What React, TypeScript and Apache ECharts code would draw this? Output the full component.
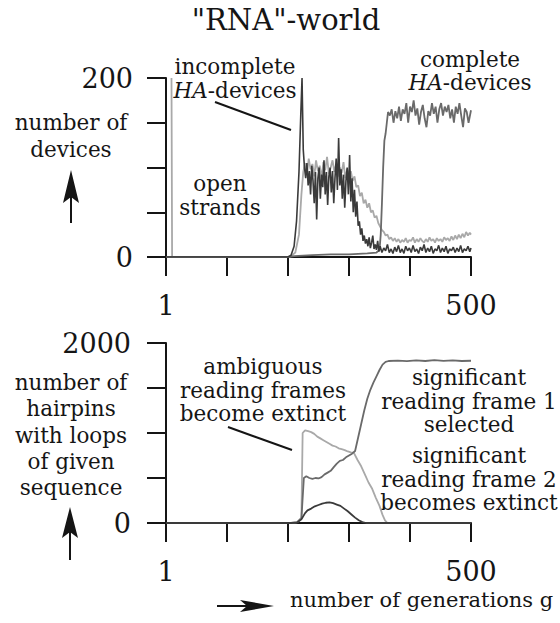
import React, { useEffect, useRef } from "react";
import * as echarts from "echarts";

const TITLE = '"RNA"-world';
const X_TICK_LABELS: Record<number, string> = { 0: "1", 500: "500" };
const Y1_TICK_LABELS: Record<number, string> = { 0: "0", 200: "200" };
const Y2_TICK_LABELS: Record<number, string> = { 0: "0", 2000: "2000" };

// Top panel: number of devices
const openStrands: [number, number][] = [
  [9, 200], [10, 0], [200, 0], [205, 1], [212, 5], [218, 25], [222, 70], [225, 95], [228, 105], [231, 92], [234, 110],
  [237, 98], [240, 104], [243, 90], [246, 108], [249, 96], [252, 102], [255, 88], [258, 106], [261, 97], [264, 112],
  [267, 93], [270, 100], [273, 108], [276, 95], [279, 104], [282, 90], [285, 100], [288, 94], [291, 106], [294, 88],
  [297, 98], [300, 92], [303, 96], [306, 85], [309, 90], [312, 78], [315, 80], [318, 68], [321, 72], [324, 60],
  [327, 64], [330, 55], [333, 60], [336, 50], [339, 52], [342, 44], [345, 46], [348, 38], [351, 34], [354, 30],
  [357, 28], [360, 24], [363, 25], [366, 20], [369, 22], [372, 18], [375, 21], [378, 17], [381, 20], [384, 16],
  [387, 19], [390, 17], [393, 21], [396, 16], [399, 19], [402, 18], [405, 22], [408, 16], [411, 20], [414, 17],
  [417, 21], [420, 18], [423, 16], [426, 20], [429, 17], [432, 22], [435, 18], [438, 20], [441, 16], [444, 21],
  [447, 18], [450, 20], [453, 17], [456, 22], [459, 19], [462, 21], [465, 18], [468, 23], [471, 19], [474, 24],
  [477, 20], [480, 25], [483, 21], [486, 26], [489, 22], [492, 28], [495, 24], [498, 27], [500, 25],
];

const incompleteHA: [number, number][] = [
  [0, 0], [200, 0], [205, 2], [210, 12], [214, 40], [218, 95], [221, 160], [223, 200], [225, 120], [227, 100],
  [229, 88], [231, 105], [233, 80], [235, 96], [237, 70], [239, 102], [241, 85], [243, 60], [245, 95], [247, 42],
  [249, 88], [251, 100], [253, 65], [255, 92], [257, 78], [259, 108], [261, 70], [263, 95], [265, 58], [267, 90],
  [269, 100], [271, 72], [273, 96], [275, 60], [277, 88], [279, 110], [281, 75], [283, 133], [285, 80], [287, 98],
  [289, 65], [291, 92], [293, 55], [295, 85], [297, 100], [299, 70], [301, 114], [303, 62], [305, 88], [307, 50],
  [309, 75], [311, 45], [313, 62], [315, 35], [317, 40], [319, 25], [321, 32], [323, 18], [325, 24], [327, 15],
  [329, 20], [331, 12], [333, 22], [335, 10], [337, 16], [339, 24], [341, 9], [343, 14], [345, 8], [347, 18],
  [349, 6], [351, 12], [354, 5], [357, 10], [360, 7], [363, 14], [366, 5], [369, 9], [372, 4], [375, 11],
  [378, 6], [381, 13], [384, 5], [387, 9], [390, 4], [393, 12], [396, 7], [399, 10], [402, 5], [405, 13],
  [408, 6], [411, 9], [414, 4], [417, 11], [420, 7], [423, 14], [426, 5], [429, 10], [432, 6], [435, 12],
  [438, 4], [441, 9], [444, 7], [447, 13], [450, 5], [453, 10], [456, 6], [459, 12], [462, 4], [465, 9],
  [468, 7], [471, 11], [474, 5], [477, 10], [480, 6], [483, 13], [486, 5], [489, 9], [492, 7], [495, 12],
  [498, 6], [500, 10],
];

const completeHA: [number, number][] = [
  [0, 0], [200, 0], [210, 1], [240, 2], [270, 3], [300, 3], [330, 4], [345, 5], [350, 8], [352, 25], [354, 60],
  [356, 100], [358, 130], [360, 138], [362, 150], [364, 162], [367, 158], [370, 165], [373, 150], [376, 163],
  [379, 155], [382, 168], [385, 152], [388, 165], [391, 160], [394, 172], [397, 150], [400, 168], [403, 162],
  [406, 175], [409, 158], [412, 166], [415, 148], [418, 162], [421, 170], [424, 155], [427, 145], [430, 163],
  [433, 158], [436, 172], [439, 160], [442, 168], [445, 150], [448, 165], [451, 172], [454, 158], [457, 168],
  [460, 162], [463, 170], [466, 155], [469, 165], [472, 150], [475, 168], [478, 160], [481, 172], [484, 158],
  [487, 145], [490, 166], [493, 162], [496, 150], [500, 164],
];

// Bottom panel: number of hairpins with loops of given sequence
const ambiguousFrames: [number, number][] = [
  [0, 0], [205, 0], [215, 10], [222, 60], [224, 1000], [228, 1030], [233, 1020], [238, 1010], [243, 990],
  [248, 960], [253, 940], [258, 920], [263, 900], [268, 880], [273, 860], [278, 850], [283, 830], [288, 820],
  [293, 810], [298, 795], [303, 785], [308, 780], [314, 700], [320, 630], [326, 540], [332, 450], [338, 380],
  [344, 280], [350, 190], [355, 90], [359, 30], [363, 0], [500, 0],
];

const frame1: [number, number][] = [
  [0, 0], [205, 0], [215, 10], [222, 50], [226, 500], [230, 520], [235, 500], [240, 490], [245, 500],
  [250, 495], [255, 510], [260, 540], [265, 560], [270, 580], [275, 620], [280, 660], [285, 690], [290, 700],
  [295, 730], [300, 750], [305, 770], [310, 800], [315, 950], [320, 1100], [325, 1250], [330, 1380],
  [335, 1480], [340, 1560], [345, 1630], [350, 1700], [355, 1760], [360, 1790], [365, 1800], [380, 1805],
  [395, 1798], [410, 1808], [425, 1800], [440, 1810], [455, 1802], [470, 1806], [485, 1800], [500, 1803],
];

const frame2: [number, number][] = [
  [0, 0], [205, 0], [215, 5], [222, 40], [228, 110], [232, 140], [238, 160], [244, 185], [250, 200],
  [256, 215], [262, 225], [268, 230], [274, 220], [280, 205], [286, 190], [292, 160], [298, 130], [304, 95],
  [310, 60], [316, 30], [322, 10], [328, 0], [500, 0],
];

const FONT = "DejaVu Serif";
const LIGHT = "#a9a9a9";
const MID = "#6a6a6a";
const DARK = "#3a3a3a";
const INK = "#151515";
const FS = 21.5;

// multi-line text block: first and last baselines give the block centre
function block(
  text: string,
  x: number,
  firstBase: number,
  lastBase: number,
  lineHeight: number,
  fs = FS,
  align = "center",
  italic = false
) {
  const style: any = {
    text,
    fill: INK,
    fontSize: fs,
    fontFamily: FONT,
    align,
    verticalAlign: "middle",
    lineHeight,
  };
  if (italic) {
    style.rich = {
      i: { fontStyle: "italic", fontSize: fs, fontFamily: FONT, fill: INK, lineHeight },
    };
  }
  return {
    type: "text",
    x,
    y: (firstBase + lastBase) / 2 - 0.346 * fs,
    silent: true,
    style,
  };
}

function upArrow(x: number, tip: number, base: number, end: number) {
  return [
    { type: "line", silent: true, shape: { x1: x, y1: base - 6, x2: x, y2: end }, style: { stroke: INK, lineWidth: 2 } },
    {
      type: "polygon",
      silent: true,
      shape: { points: [[x, tip], [x + 8, base], [x, base - 6], [x - 8, base]] },
      style: { fill: INK },
    },
  ];
}

function axisCommon() {
  return {
    axisLine: { show: true, lineStyle: { color: INK, width: 2 } },
    axisTick: { show: true, length: 19, lineStyle: { color: INK, width: 2 } },
    splitLine: { show: false },
  };
}

function lineSeries(data: [number, number][], color: string, idx: number, width = 1.6) {
  return {
    type: "line",
    data,
    xAxisIndex: idx,
    yAxisIndex: idx,
    showSymbol: false,
    symbol: "none",
    lineStyle: { color, width },
    silent: true,
  };
}

export default function App() {
  const ref = useRef<HTMLDivElement>(null);
  useEffect(() => {
    if (!ref.current) return;
    const chart = echarts.init(ref.current, undefined, { renderer: "svg" });
    const xAxisBase = (gridIndex: number) => ({
      type: "value",
      gridIndex,
      min: 0,
      max: 500,
      interval: 100,
      ...axisCommon(),
      axisLabel: {
        margin: 35,
        fontSize: 27,
        fontFamily: FONT,
        color: INK,
        formatter: (v: number) => X_TICK_LABELS[v] ?? "",
      },
    });
    const yLabel = (map: Record<number, string>, margin: number) => ({
      margin,
      fontSize: 27,
      fontFamily: FONT,
      color: INK,
      formatter: (v: number) => map[v] ?? "",
    });
    chart.setOption({
      animation: false,
      backgroundColor: "#ffffff",
      textStyle: { fontFamily: FONT },
      grid: [
        { left: 166, top: 78, width: 305, height: 179, containLabel: false },
        { left: 166, top: 343, width: 305, height: 180, containLabel: false },
      ],
      xAxis: [xAxisBase(0), xAxisBase(1)],
      yAxis: [
        {
          type: "value",
          gridIndex: 0,
          min: 0,
          max: 200,
          interval: 50,
          ...axisCommon(),
          axisLabel: yLabel(Y1_TICK_LABELS, 33),
        },
        {
          type: "value",
          gridIndex: 1,
          min: 0,
          max: 2000,
          interval: 500,
          ...axisCommon(),
          axisLabel: yLabel(Y2_TICK_LABELS, 35),
        },
      ],
      series: [
        lineSeries(openStrands, LIGHT, 0, 1.8),
        lineSeries(completeHA, MID, 0, 1.8),
        lineSeries(incompleteHA, DARK, 0, 1.6),
        lineSeries(ambiguousFrames, LIGHT, 1, 1.8),
        lineSeries(frame1, MID, 1, 1.8),
        lineSeries(frame2, DARK, 1, 1.8),
      ],
      graphic: [
        block(TITLE, 286, 30, 30, 32, 29),
        // top panel
        block("number of\ndevices", 71, 130, 157, 27),
        ...upArrow(71, 170, 203, 223),
        block("incomplete\n{i|HA}-devices", 235, 74, 98, 24, FS, "center", true),
        { type: "line", silent: true, shape: { x1: 215, y1: 102, x2: 291, y2: 130 }, style: { stroke: INK, lineWidth: 2 } },
        block("open\nstrands", 220, 191, 214.5, 23.5),
        block("complete\n{i|HA}-devices", 470, 67, 90, 23.5, FS, "center", true),
        // bottom panel
        block("number of\nhairpins\nwith loops\nof given\nsequence", 71, 390, 495, 26.25),
        ...upArrow(70, 507, 538, 560),
        block("ambiguous\nreading frames\nbecome extinct", 263, 374, 421, 23.5),
        { type: "line", silent: true, shape: { x1: 228, y1: 427, x2: 292, y2: 450 }, style: { stroke: INK, lineWidth: 2 } },
        block("significant\nreading frame 1\nselected", 469, 385, 432, 23.5),
        block("significant\nreading frame 2\nbecomes extinct", 469, 463, 510, 23.5),
        // x-axis caption
        { type: "line", silent: true, shape: { x1: 217, y1: 606, x2: 252, y2: 606 }, style: { stroke: INK, lineWidth: 2 } },
        {
          type: "polygon",
          silent: true,
          shape: { points: [[274, 606], [240, 600], [247, 606], [240, 612]] },
          style: { fill: INK },
        },
        block("number of generations g", 290, 607, 607, 24, 21, "left"),
      ],
    });
    return () => chart.dispose();
  }, []);
  return (
    <div
      ref={ref}
      style={{ position: "absolute", left: 0, top: 0, width: 560, height: 623, background: "#fff" }}
    />
  );
}
